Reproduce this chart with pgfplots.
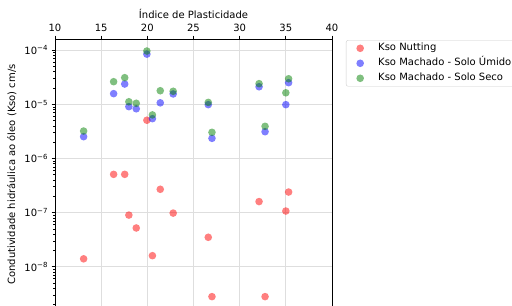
\documentclass[border=0pt]{standalone}
\usepackage{fontspec}
\setmainfont{DejaVu Sans}
\usepackage{pgfplots}
\pgfplotsset{compat=1.18}
\definecolor{mred}{rgb}{1,0,0}
\definecolor{mblue}{rgb}{0,0,1}
\definecolor{mgreen}{rgb}{0,0.5,0}
\definecolor{gridc}{rgb}{0.87,0.87,0.87}
\definecolor{legc}{rgb}{0.8,0.8,0.8}
\newcommand{\ff}{\fontsize{10bp}{12bp}\selectfont}
\begin{document}
\begin{tikzpicture}
\begin{axis}[
  at={(55bp,-4bp)}, anchor=south west,
  scale only axis, width=277bp, height=271bp,
  ymode=log, xmin=10, xmax=40, ymin=1.585e-9, ymax=1.618e-4,
  xtick={10,15,20,25,30,35,40}, xticklabels={10,15,20,25,30,35,40},
  xtick pos=right, xticklabel pos=right,
  ytick={1e-8,1e-7,1e-6,1e-5,1e-4},
  yticklabels={10\textsuperscript{−8},10\textsuperscript{−7},10\textsuperscript{−6},10\textsuperscript{−5},10\textsuperscript{−4}},
  minor ytick={2e-9,3e-9,4e-9,5e-9,6e-9,7e-9,8e-9,9e-9,
               2e-8,3e-8,4e-8,5e-8,6e-8,7e-8,8e-8,9e-8,
               2e-7,3e-7,4e-7,5e-7,6e-7,7e-7,8e-7,9e-7,
               2e-6,3e-6,4e-6,5e-6,6e-6,7e-6,8e-6,9e-6,
               2e-5,3e-5,4e-5,5e-5,6e-5,7e-5,8e-5,9e-5},
  ytick pos=left,
  tick align=outside,
  major tick length=3.5bp, minor tick length=2bp,
  every tick/.style={black, line width=0.7bp},
  axis line style={line width=0.8bp},
  grid=major, major grid style={gridc, line width=0.8bp},
  tick label style={font=\ff},
  xlabel={Índice de Plasticidade},
  ylabel={Condutividade hidráulica ao óleo (Kso) cm/s},
  label style={font=\ff},
  xlabel style={at={(axis description cs:0.5,1.0764)}, anchor=base},
  ylabel style={at={(axis description cs:-0.156,0.5)}, anchor=center},
  legend cell align=left,
  legend image code/.code={\path[draw=none] (0bp,0bp) -- (20bp,0bp); \draw[#1] plot coordinates {(10bp,0bp)};},
  legend style={at={(axis description cs:1.0505,0.996)}, anchor=north west,
    draw=legc, rounded corners=2bp, fill=white, fill opacity=0.8, text opacity=1,
    inner xsep=4bp, inner ysep=3bp, row sep=5bp, font=\ff,
    nodes={inner sep=0pt, text height=7.5bp, text depth=2.5bp, anchor=west},
    /tikz/every odd column/.append style={column sep=8bp}},
]
\addplot[only marks, color=mred, mark=*, mark size=3.8bp, mark options={draw=mred, draw opacity=0, fill=mred, fill opacity=0.5}] coordinates {
(13.1,1.4e-8) (16.35,5.1e-7) (17.55,5.1e-7) (18.0,9.0e-8) (18.8,5.2e-8) (19.95,5.1e-6) (20.55,1.6e-8) (21.4,2.7e-7) (22.8,9.8e-8) (26.6,3.5e-8) (27.0,2.8e-9) (32.1,1.6e-7) (32.75,2.8e-9) (35.0,1.07e-7) (35.3,2.4e-7)
};
\addlegendentry{Kso Nutting}
\addplot[only marks, color=mblue, mark=*, mark size=3.8bp, mark options={draw=mblue, draw opacity=0, fill=mblue, fill opacity=0.5}] coordinates {
(13.1,2.53e-6) (16.35,1.58e-5) (17.55,2.38e-5) (18.0,9.1e-6) (18.8,8.3e-6) (19.95,8.5e-5) (20.55,5.45e-6) (21.4,1.07e-5) (22.8,1.56e-5) (26.6,9.9e-6) (27.0,2.36e-6) (32.1,2.12e-5) (32.75,3.13e-6) (35.0,9.9e-6) (35.3,2.52e-5)
};
\addlegendentry{Kso Machado - Solo Úmido}
\addplot[only marks, color=mgreen, mark=*, mark size=3.8bp, mark options={draw=mgreen, draw opacity=0, fill=mgreen, fill opacity=0.5}] coordinates {
(13.1,3.22e-6) (16.35,2.63e-5) (17.55,3.12e-5) (18.0,1.12e-5) (18.8,1.05e-5) (19.95,9.7e-5) (20.55,6.4e-6) (21.4,1.79e-5) (22.8,1.75e-5) (26.6,1.09e-5) (27.0,3.05e-6) (32.1,2.42e-5) (32.75,3.94e-6) (35.0,1.64e-5) (35.3,2.98e-5)
};
\addlegendentry{Kso Machado - Solo Seco}
\end{axis}
\pgfresetboundingbox
\useasboundingbox (0,0) rectangle (512bp,306bp);
\end{tikzpicture}
\end{document}
